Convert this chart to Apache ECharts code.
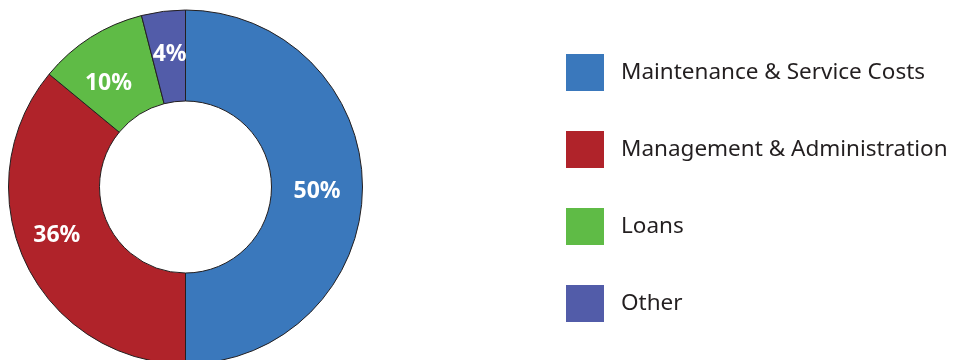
<!DOCTYPE html>
<html>
<head>
<meta charset="utf-8">
<script src="https://cdn.jsdelivr.net/npm/echarts@6/dist/echarts.min.js"></script>
<style>
html,body{margin:0;padding:0;background:#fff;}
#chart{width:955px;height:360px;}
</style>
</head>
<body>
<div id="chart"></div>
<script>
const categories = ['Maintenance & Service Costs', 'Management & Administration', 'Loans', 'Other'];
const values = [50, 36, 10, 4];
const colors = ['#3a78bc', '#b0232a', '#5fbb46', '#525ca9'];

// small label nudges (style) to match the original label placement
const labelNudge = [[-3, 4], [-7, -9], [-5, 10], [1, 1]];

const chart = echarts.init(document.getElementById('chart'), null, {renderer: 'canvas'});
chart.setOption({
  animation: false,
  color: colors,
  legend: {
    orient: 'vertical',
    left: 566,
    top: 54,
    padding: 0,
    itemWidth: 38,
    itemHeight: 37,
    itemGap: 40,
    icon: 'rect',
    itemStyle: {borderWidth: 0},
    data: categories,
    textStyle: {
      fontFamily: 'Noto Sans',
      fontSize: 22.5,
      color: '#231f20',
      padding: [0, 0, 0, 12]
    }
  },
  series: [{
    type: 'pie',
    center: [185.5, 187],
    radius: [86, 177],
    startAngle: 90,
    clockwise: true,
    label: {
      show: true,
      position: 'inside',
      formatter: '{c}%',
      color: '#fff',
      fontFamily: 'Noto Sans',
      fontWeight: 'bold',
      fontSize: 23
    },
    labelLine: {show: false},
    itemStyle: {borderColor: '#231f20', borderWidth: 1},
    emphasis: {disabled: true},
    data: categories.map((n, i) => ({
      name: n,
      value: values[i],
      label: {offset: labelNudge[i]}
    }))
  }]
});
</script>
</body>
</html>
